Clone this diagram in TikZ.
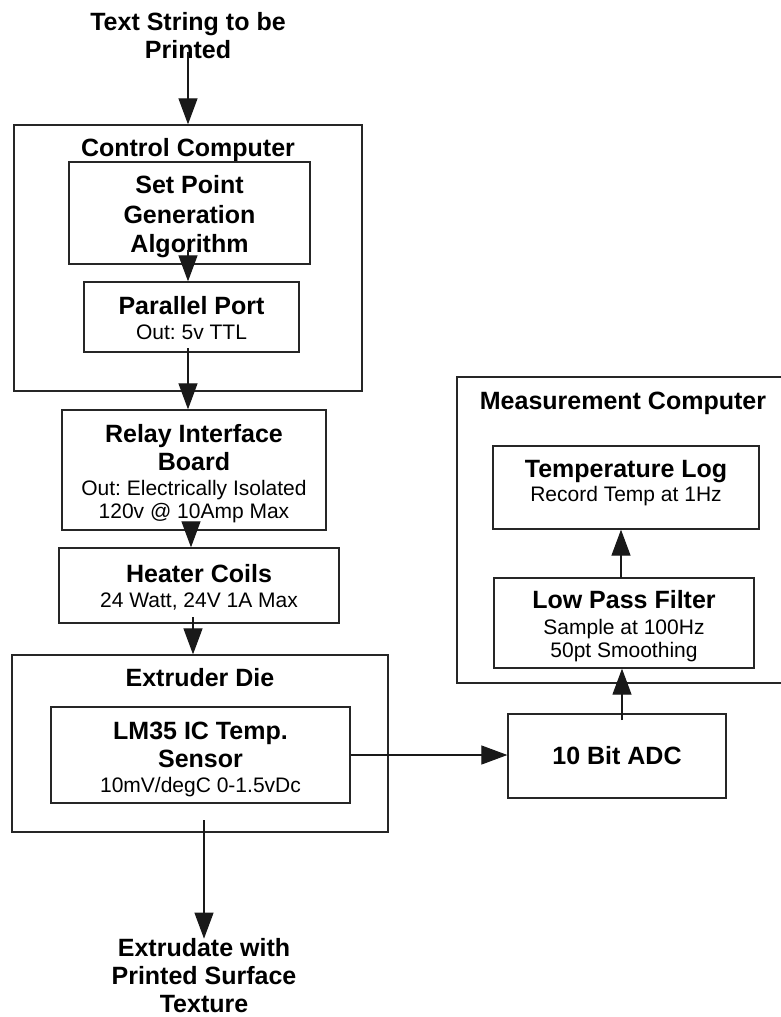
\documentclass[tikz,border=0pt]{standalone}
\usepackage{fontspec}
\setmainfont{Liberation Sans}
\usetikzlibrary{arrows.meta,calc}
\frenchspacing
\newcommand\hdfont{\fontsize{25}{28}\selectfont\bfseries}
\newcommand\smfont{\fontsize{21}{23}\selectfont}
\newcommand\hd[1]{{\hdfont #1}}

\begin{document}
\begin{tikzpicture}[x=1pt,y=-1pt,
  box/.style={draw=black!85, line width=1.3pt, rectangle, inner sep=0pt},
  flow/.style={line width=1.2pt, draw=black!90,
               -{Triangle[length=26pt,width=19pt]}},
  lbl/.style={inner sep=0pt, align=center, font=\hdfont},
  txt/.style={inner sep=0pt, align=center, font=\smfont}]
\useasboundingbox (0,0) rectangle (781,1017);

% input and output texts
\node[lbl] (input) at (188,35.5) {Text String to be\\Printed};
\node[lbl] (output) at (204,976) {Extrudate with\\Printed Surface\\Texture};

% control computer
\node[box, minimum width=348pt, minimum height=266pt] (ctrl) at (188,258) {};
\node[lbl] (ctrlt) at (188,150) {Control Computer};
\node[box, minimum width=241pt, minimum height=102pt] (setpt) at (189.5,213) {};
\node[lbl] (setptt) at (189.5,217) {Set Point\\[1.5pt]Generation\\[1.5pt]Algorithm};
\node[box, minimum width=215pt, minimum height=70pt] (port) at (191.5,317) {};
\node[txt] (portt) at (191.5,318) {\hd{Parallel Port}\\[2.5pt]Out: 5v TTL};

% power path
\node[box, minimum width=264pt, minimum height=120pt] (relay) at (194,470) {};
\node[txt] (relayt) at (194,474)
  {\hd{Relay Interface}\\[3pt]\hd{Board}\\[2.5pt]Out: Electrically Isolated\\120v @ 10Amp Max};
\node[box, minimum width=280pt, minimum height=75pt] (heater) at (199,585.5) {};
\node[txt] (heatert) at (199,587.5) {\hd{Heater Coils}\\[1.5pt]24 Watt, 24V 1A Max};

% extruder die with sensor
\node[box, minimum width=376pt, minimum height=177pt] (extr) at (200,743.5) {};
\node[lbl] (extrt) at (200,678) {Extruder Die};
\node[box, minimum width=299pt, minimum height=96pt] (lm35) at (200.5,755) {};
\node[txt] (lm35t) at (200.5,759.5)
  {\hd{LM35 IC Temp.}\\[5pt]\hd{Sensor}\\[2.5pt]10mV/degC 0-1.5vDc};

% measurement side
\node[box, minimum width=343pt, minimum height=306pt] (meas) at (628.5,530) {};
\node[lbl] (meast) at (623,403) {Measurement Computer};
\node[box, minimum width=266pt, minimum height=83pt] (tlog) at (626,487.5) {};
\node[txt] (tlogt) at (626,483) {\hd{Temperature Log}\\[0.5pt]Record Temp at 1Hz};
\node[box, minimum width=260pt, minimum height=90pt] (lpf) at (624,623) {};
\node[txt] (lpft) at (624,626) {\hd{Low Pass Filter}\\[2.5pt]Sample at 100Hz\\50pt Smoothing};
\node[box, minimum width=218pt, minimum height=84pt] (adc) at (617,756) {};
\node[lbl] (adct) at (617,756) {10 Bit ADC};

% connector start points
\coordinate (s0) at (188,52);
\coordinate (s1) at (188,250);
\coordinate (s2) at (188,348);
\coordinate (s3) at (191,522);
\coordinate (s4) at (193,617);
\coordinate (s5) at (204,820);
\coordinate (s6) at (622,720);
\coordinate (s7) at (621,578);

\draw[flow] (s0) -- (s0 |- ctrl.north);
\draw[flow] (s1) -- (s1 |- port.north);
\draw[flow] (s2) -- (s2 |- relay.north);
\draw[flow] (s3) -- (s3 |- heater.north);
\draw[flow] (s4) -- (s4 |- extr.north);
\draw[flow] (s5) -- (s5 |- output.north);
\draw[flow] (lm35.east) -- (lm35.east -| adc.west);
\draw[flow] (s6) -- (s6 |- lpf.south);
\draw[flow] (s7) -- (s7 |- tlog.south);
\end{tikzpicture}
\end{document}
